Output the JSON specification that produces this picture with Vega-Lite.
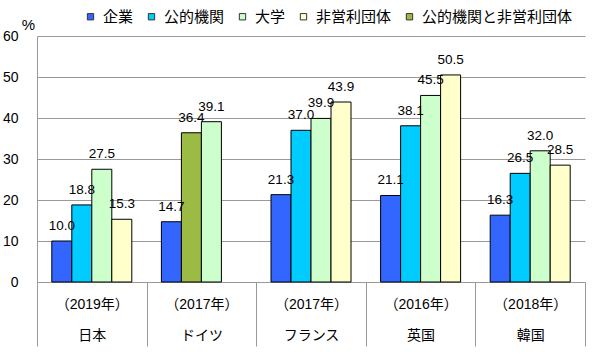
{
  "$schema": "https://vega.github.io/schema/vega-lite/v6.json",
  "width": 548,
  "height": 246,
  "autosize": {"type": "none"},
  "padding": {"left": 37, "top": 36, "right": 15, "bottom": 73},
  "background": "white",
  "config": {
    "view": {"stroke": null},
    "font": "Liberation Sans, Noto Sans CJK JP",
    "axis": {"labelFont": "Liberation Sans, Noto Sans CJK JP", "labelColor": "#000", "titleColor": "#000"}
  },
  "data": {
    "values": [
      {"group": "（2019年）|日本", "slot": "0", "sector": "企業", "value": 10.0},
      {"group": "（2019年）|日本", "slot": "1", "sector": "公的機関", "value": 18.8},
      {"group": "（2019年）|日本", "slot": "2", "sector": "大学", "value": 27.5},
      {"group": "（2019年）|日本", "slot": "3", "sector": "非営利団体", "value": 15.3},
      {"group": "（2017年）|ドイツ", "slot": "0", "sector": "企業", "value": 14.7},
      {"group": "（2017年）|ドイツ", "slot": "1", "sector": "公的機関と非営利団体", "value": 36.4},
      {"group": "（2017年）|ドイツ", "slot": "2", "sector": "大学", "value": 39.1},
      {"group": "（2017年）|フランス", "slot": "0", "sector": "企業", "value": 21.3},
      {"group": "（2017年）|フランス", "slot": "1", "sector": "公的機関", "value": 37.0},
      {"group": "（2017年）|フランス", "slot": "2", "sector": "大学", "value": 39.9},
      {"group": "（2017年）|フランス", "slot": "3", "sector": "非営利団体", "value": 43.9},
      {"group": "（2016年）|英国", "slot": "0", "sector": "企業", "value": 21.1},
      {"group": "（2016年）|英国", "slot": "1", "sector": "公的機関", "value": 38.1},
      {"group": "（2016年）|英国", "slot": "2", "sector": "大学", "value": 45.5},
      {"group": "（2016年）|英国", "slot": "3", "sector": "非営利団体", "value": 50.5},
      {"group": "（2018年）|韓国", "slot": "0", "sector": "企業", "value": 16.3},
      {"group": "（2018年）|韓国", "slot": "1", "sector": "公的機関", "value": 26.5},
      {"group": "（2018年）|韓国", "slot": "2", "sector": "大学", "value": 32.0},
      {"group": "（2018年）|韓国", "slot": "3", "sector": "非営利団体", "value": 28.5}
    ]
  },
  "encoding": {
    "x": {
      "field": "group",
      "type": "nominal",
      "sort": null,
      "scale": {"paddingInner": 0, "paddingOuter": 0},
      "axis": {
        "title": null,
        "labelAngle": 0,
        "labelExpr": "isString(datum.value) ? split(datum.value, '|') : ''",
        "labelFontSize": 14,
        "labelFont": "Liberation Sans, Noto Sans CJK JP",
        "labelLineHeight": 31,
        "labelBaseline": "top",
        "labelPadding": -49,
        "tickBand": "extent",
        "tickSize": 64,
        "tickColor": "#999",
        "domainColor": "#999",
        "grid": false
      }
    },
    "xOffset": {
      "field": "slot",
      "type": "nominal",
      "scale": {"domain": ["0", "1", "2", "3"], "paddingInner": 0, "paddingOuter": 0.74}
    },
    "y": {
      "field": "value",
      "type": "quantitative",
      "scale": {"domain": [0, 60], "nice": false},
      "axis": {
        "values": [0, 10, 20, 30, 40, 50, 60],
        "title": "%",
        "titleAngle": 0,
        "titleAlign": "center",
        "titleBaseline": "alphabetic",
        "titleX": -9,
        "titleY": -7,
        "titleFontSize": 15,
        "titleFontWeight": "normal",
        "titleFont": "Liberation Sans",
        "labelFontSize": 14,
        "labelFont": "Liberation Sans",
        "ticks": false,
        "labelPadding": 19,
        "gridColor": "#999",
        "domainColor": "#999"
      }
    }
  },
  "layer": [
    {
      "mark": {"type": "bar", "stroke": "#000", "strokeWidth": 1},
      "encoding": {
        "color": {
          "field": "sector",
          "type": "nominal",
          "scale": {
            "domain": ["企業", "公的機関", "大学", "非営利団体", "公的機関と非営利団体"],
            "range": ["#3366FF", "#00CCFF", "#CCFFCC", "#FFFFCC", "#9BBB44"]
          },
          "legend": {
            "title": null,
            "orient": "none",
            "direction": "horizontal",
            "legendX": 46,
            "legendY": -27,
            "padding": 0,
            "symbolType": "square",
            "symbolSize": 40,
            "symbolStrokeColor": "#333",
            "symbolStrokeWidth": 1,
            "symbolOpacity": 1,
            "labelFont": "Noto Sans CJK JP",
            "labelFontSize": 15,
            "labelColor": "#000",
            "labelOffset": 5,
            "columnPadding": 10
          }
        }
      }
    },
    {
      "mark": {"type": "text", "dy": -11, "baseline": "alphabetic", "fontSize": 13.5, "font": "Liberation Sans", "color": "#000"},
      "encoding": {
        "text": {"field": "value", "type": "quantitative", "format": ".1f"}
      }
    }
  ]
}
